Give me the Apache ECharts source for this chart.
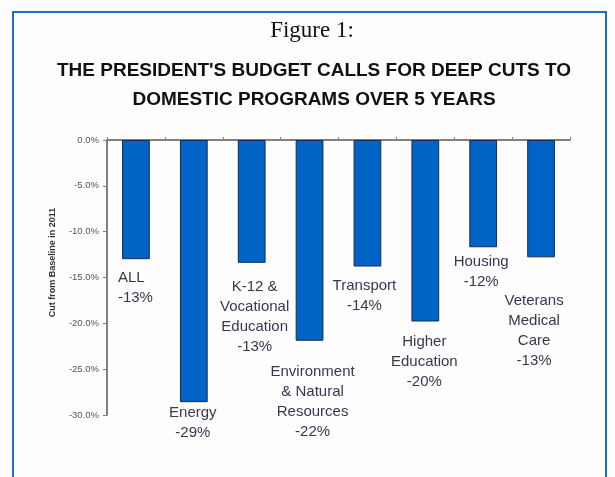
<!DOCTYPE html>
<html><head><meta charset="utf-8">
<script src="https://cdn.jsdelivr.net/npm/echarts@6/dist/echarts.min.js"></script>
<style>html,body{margin:0;padding:0;background:#fdfdfd}#c{width:615px;height:477px}</style>
</head><body><div id="c"></div>
<script>
const categories = ['ALL', 'Energy', 'K-12 &\nVocational\nEducation', 'Environment\n& Natural\nResources', 'Transport', 'Higher\nEducation', 'Housing', 'Veterans\nMedical\nCare'];
const cuts = [-13.0, -28.6, -13.4, -21.9, -13.8, -19.8, -11.7, -12.8];
const yTicks = [0, -5, -10, -15, -20, -25, -30];
const titleText = 'Figure 1:';
const subtitleText = "THE PRESIDENT'S BUDGET CALLS FOR DEEP CUTS TO\nDOMESTIC PROGRAMS OVER 5 YEARS";
const yName = 'Cut from Baseline in 2011';

// label layout (style, not data)
const labelOffsets = [[-18, 9], [-1, 1], [3, 14], [3, 21], [-3, 9], [-1, 10], [-2, 5], [-7, 34]];
const labelAligns = ['left', 'center', 'center', 'center', 'center', 'center', 'center', 'center'];

const chart = echarts.init(document.getElementById('c'), null, {renderer: 'canvas'});
chart.setOption({
  backgroundColor: '#fdfdfd',
  animation: false,
  graphic: [
    {type: 'rect', shape: {x: 13, y: 12, width: 593, height: 500}, style: {fill: 'none', stroke: '#1f6fc0', lineWidth: 2}},
    {type: 'text', x: 312, y: 31, style: {text: titleText, font: '23px "Liberation Serif", serif', fill: '#111', align: 'center', verticalAlign: 'middle'}},
    {type: 'text', x: 314, y: 85, style: {text: subtitleText, font: 'bold 19px "Liberation Sans", Arial, sans-serif', fill: '#111', align: 'center', verticalAlign: 'middle', lineHeight: 29}}
  ],
  grid: {left: 107, right: 45, top: 140, bottom: 62},
  xAxis: {
    type: 'category', data: categories, position: 'top',
    axisLine: {lineStyle: {color: '#808080', width: 2}},
    axisTick: {show: true, interval: 0, length: 3, lineStyle: {color: '#808080'}},
    axisLabel: {show: false, interval: 0}
  },
  yAxis: {
    type: 'value', min: -30, max: 0, interval: 5,
    name: yName, nameLocation: 'middle', nameGap: 50, nameRotate: 90,
    nameTextStyle: {fontFamily: '"Liberation Sans", Arial', fontWeight: 'bold', fontSize: 9, color: '#333', padding: [0, 0, 0, 30]},
    axisLine: {show: true, lineStyle: {color: '#808080', width: 2}},
    axisTick: {show: true, length: 4, lineStyle: {color: '#808080'}},
    splitLine: {show: false},
    axisLabel: {
      fontFamily: '"Liberation Sans", Arial', fontSize: 9.5, color: '#555', margin: 8,
      formatter: v => (yTicks.includes(v) ? v.toFixed(1) + '%' : '')
    }
  },
  series: [{
    type: 'bar', barWidth: '48%',
    itemStyle: {color: '#0063c6', borderColor: '#1a2a50', borderWidth: 1},
    data: cuts.map((v, i) => ({
      value: v,
      label: {offset: labelOffsets[i], align: labelAligns[i]}
    })),
    label: {
      show: true, position: 'bottom', distance: 0,
      fontFamily: '"Liberation Sans", Arial', fontSize: 15, lineHeight: 20, color: '#3d3550',
      formatter: p => p.name + '\n' + Math.round(p.value) + '%'
    }
  }]
});
</script></body></html>
